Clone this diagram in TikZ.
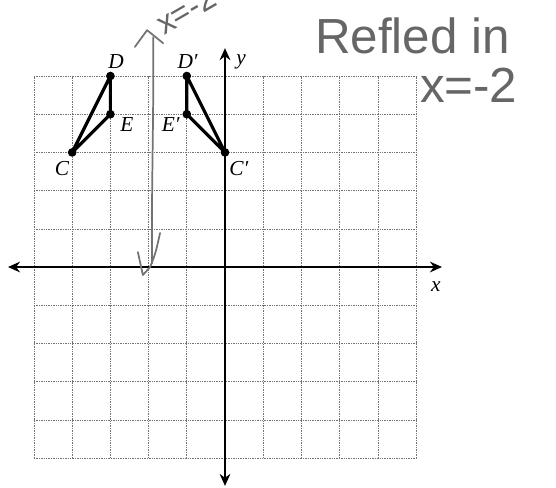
\documentclass[tikz,border=0pt]{standalone}
\usepackage{fontspec}
\newfontfamily\hand{Liberation Sans}
\newfontfamily\labfont{Liberation Serif}
\usetikzlibrary{arrows.meta}
\begin{document}
\begin{tikzpicture}[x=28.65pt,y=28.65pt,
  gridline/.style={draw=black!55,line width=0.45pt,dash pattern=on 1pt off 0.8pt},
  axis/.style={draw=black,line width=1.3pt,-{Stealth[length=9pt,width=8pt]}},
  fig/.style={draw=black,line width=2.4pt,line join=round},
  pt/.style={circle,fill=black,inner sep=0pt,minimum size=6.5pt},
  lab/.style={font=\labfont\itshape\fontsize{16}{18}\selectfont,inner sep=0pt},
  ink/.style={draw=black!55,line width=1.3pt,line cap=round,line join=round},
  inktext/.style={text=black!60,inner sep=0pt}]
\useasboundingbox (-5.89,-5.76) rectangle (8.665,6.99);
\clip (-5.89,-5.76) rectangle (8.665,6.99);
% grid
\foreach \i in {-5,...,5} {
  \draw[gridline] (\i,-5) -- (\i,5);
  \draw[gridline] (-5,\i) -- (5,\i);
}
% axes
\coordinate (xl) at (-5.68,0);
\coordinate (xr) at (5.68,0);
\coordinate (yb) at (0,-5.73);
\coordinate (yt) at (0,5.73);
\draw[axis] (0,0) -- (xl);
\draw[axis] (0,0) -- (xr);
\draw[axis] (0,0) -- (yb);
\draw[axis] (0,0) -- (yt);
\node[lab] (xlab) at (5.52,-0.50) {x};
\node[lab] (ylab) at (0.42,5.37) {y};
% original triangle
\node[pt] (C) at (-4,3) {};
\node[pt] (D) at (-3,5) {};
\node[pt] (E) at (-3,4) {};
\draw[fig] (C.center) -- (D.center) -- (E.center) -- cycle;
\node[lab] (Cl) at (-4.27,2.59) {C};
\node[lab] (Dl) at (-2.85,5.37) {D};
\node[lab] (El) at (-2.57,3.72) {E};
% image triangle
\node[pt] (C1) at (0,3) {};
\node[pt] (D1) at (-1,5) {};
\node[pt] (E1) at (-1,4) {};
\draw[fig] (C1.center) -- (D1.center) -- (E1.center) -- cycle;
\node[lab] (C1l) at (0.36,2.59) {C′};
\node[lab] (D1l) at (-0.98,5.37) {D′};
\node[lab] (E1l) at (-1.42,3.72) {E′};
% handwritten line of reflection
\coordinate (mt) at (-1.88,6.02);
\coordinate (mb) at (-1.91,0.10);
\draw[ink] (mt) .. controls (-1.86,4) and (-1.93,2) .. (mb);
\draw[ink] (-2.36,5.76) -- (-2.04,6.20) -- (-1.62,5.86);
\draw[ink] (-2.28,0.39) -- (-2.15,-0.21) -- (-1.96,0.0) .. controls (-1.82,0.35) .. (-1.70,0.89);
\node[inktext,rotate=30,anchor=base west,font=\hand\fontsize{24}{24}\selectfont] (lx) at (-1.6,6.05) {x=-2};
% handwritten note
\node[inktext,anchor=west,font=\hand\fontsize{37}{40}\selectfont] (note1) at (2.35,6.05) {Refled in};
\node[inktext,anchor=west,font=\hand\fontsize{37}{40}\selectfont] (note2) at (5.1,4.75) {x=-2};
\end{tikzpicture}
\end{document}
